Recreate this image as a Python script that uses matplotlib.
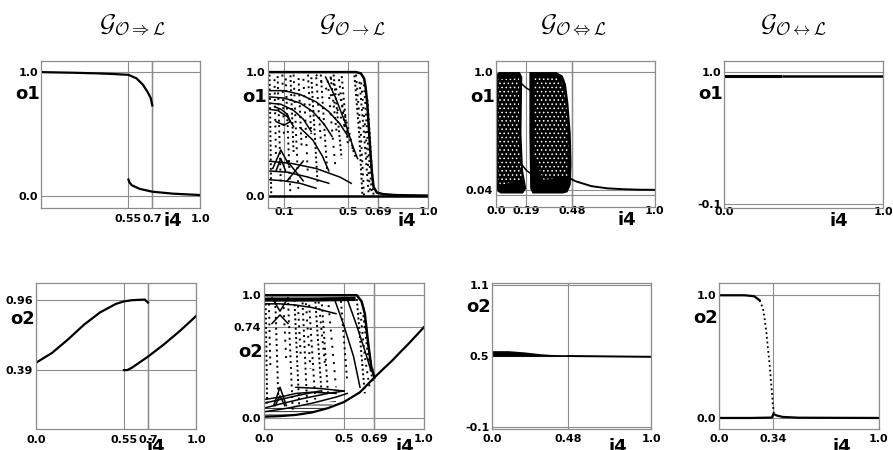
import matplotlib
matplotlib.use('Agg')
from matplotlib import pyplot as plt

plt.rcParams['mathtext.fontset'] = 'cm'
plt.rcParams['hatch.linewidth'] = 0.6

W, H = 893, 450

titles = [r'$\mathcal{G}_{\mathcal{O}\Rightarrow\mathcal{L}}$',
          r'$\mathcal{G}_{\mathcal{O}\rightarrow\mathcal{L}}$',
          r'$\mathcal{G}_{\mathcal{O}\Leftrightarrow\mathcal{L}}$',
          r'$\mathcal{G}_{\mathcal{O}\leftrightarrow\mathcal{L}}$']

# ---- panel 1 : O=>L, o1
p1_hi_x = [0.0, 0.2, 0.35, 0.45, 0.55, 0.6, 0.64, 0.67, 0.69, 0.7]
p1_hi_y = [1.0, 0.995, 0.99, 0.985, 0.978, 0.95, 0.9, 0.84, 0.79, 0.73]
p1_lo_x = [0.55, 0.555, 0.57, 0.62, 0.7, 0.83, 1.0]
p1_lo_y = [0.13, 0.11, 0.085, 0.055, 0.032, 0.016, 0.005]

# ---- panel 5 : O=>L, o2
p5_hi_x = [0.0, 0.1, 0.2, 0.3, 0.4, 0.5, 0.55, 0.6, 0.68, 0.7]
p5_hi_y = [0.45, 0.53, 0.64, 0.76, 0.86, 0.93, 0.95, 0.96, 0.965, 0.94]
p5_lo_x = [0.55, 0.57, 0.6, 0.7, 0.8, 0.9, 1.0]
p5_lo_y = [0.39, 0.39, 0.41, 0.5, 0.6, 0.71, 0.83]

# ---- panel 2 : O->L, o1 (chaotic)
p2_top_x = [0.0, 0.3, 0.55, 0.58, 0.6, 0.61, 0.62, 0.63, 0.64, 0.65, 0.66, 0.68, 0.72, 0.8, 1.0]
p2_top_y = [1.0, 1.0, 1.0, 0.99, 0.95, 0.88, 0.75, 0.55, 0.35, 0.18, 0.07, 0.025, 0.012, 0.004, 0.0]
p2_bot_x = [0.0, 0.6, 1.0]
p2_bot_y = [0.0, 0.0, 0.0]
p2_arcs_x = [[0.0, 0.1, 0.2, 0.3, 0.38, 0.45, 0.5],
             [0.0, 0.1, 0.2, 0.28, 0.35, 0.4],
             [0.0, 0.08, 0.16, 0.22, 0.27],
             [0.0, 0.06, 0.12, 0.16],
             [0.0, 0.15, 0.3, 0.45, 0.52],
             [0.0, 0.12, 0.25, 0.38],
             [0.0, 0.1, 0.2, 0.3],
             [0.03, 0.08, 0.13],
             [0.05, 0.08, 0.11],
             [0.04, 0.08, 0.12, 0.14, 0.1, 0.05],
             [0.12, 0.17, 0.22],
             [0.12, 0.17, 0.22],
             [0.36, 0.42, 0.48, 0.53, 0.56],
             [0.2, 0.28, 0.34, 0.38]]
p2_arcs_y = [[0.85, 0.85, 0.82, 0.76, 0.68, 0.58, 0.48],
             [0.8, 0.79, 0.75, 0.68, 0.58, 0.48],
             [0.75, 0.74, 0.69, 0.62, 0.52],
             [0.7, 0.69, 0.64, 0.56],
             [0.28, 0.26, 0.22, 0.15, 0.1],
             [0.2, 0.19, 0.15, 0.1],
             [0.13, 0.12, 0.1, 0.06],
             [0.22, 0.37, 0.25],
             [0.2, 0.3, 0.2],
             [0.72, 0.7, 0.66, 0.6, 0.57, 0.6],
             [0.12, 0.2, 0.28],
             [0.28, 0.2, 0.12],
             [0.96, 0.8, 0.6, 0.4, 0.3],
             [0.55, 0.45, 0.32, 0.2]]
p2_dots_x = [[0.01, 0.02], [0.04, 0.05], [0.06, 0.08], [0.09, 0.1], [0.11, 0.14],
             [0.14, 0.16], [0.16, 0.19], [0.19, 0.21], [0.22, 0.25], [0.25, 0.27],
             [0.27, 0.31], [0.3, 0.33], [0.33, 0.37], [0.37, 0.42], [0.39, 0.43],
             [0.41, 0.46], [0.44, 0.48], [0.46, 0.5], [0.3, 0.4, 0.5, 0.55],
             [0.38, 0.45, 0.5, 0.54], [0.54, 0.57, 0.59], [0.55, 0.58, 0.6],
             [0.57, 0.6, 0.63], [0.58, 0.61, 0.64], [0.6, 0.62, 0.65], [0.62, 0.64, 0.66]]
p2_dots_y = [[0.98, 0.02], [0.98, 0.3], [0.98, 0.1], [0.98, 0.45], [0.98, 0.0],
             [0.98, 0.35], [0.98, 0.05], [0.98, 0.4], [0.98, 0.15], [0.98, 0.5],
             [0.98, 0.1], [0.98, 0.45], [0.98, 0.2], [0.98, 0.25], [0.98, 0.5],
             [0.98, 0.3], [0.98, 0.55], [0.98, 0.4], [0.98, 0.8, 0.5, 0.3],
             [0.98, 0.8, 0.55, 0.33], [0.98, 0.5, 0.0], [0.98, 0.5, 0.0],
             [0.95, 0.5, 0.0], [0.95, 0.5, 0.0], [0.9, 0.5, 0.0], [0.8, 0.4, 0.0]]

# ---- panel 6 : O->L, o2 (chaotic)
p6_top_x = [0.0, 0.3, 0.58, 0.61, 0.63, 0.65, 0.67, 0.69]
p6_top_y = [1.0, 1.0, 1.0, 0.95, 0.85, 0.62, 0.42, 0.33]
p6_band_x = [0.0, 0.3, 0.56]
p6_band_y = [0.965, 0.965, 0.97]
p6_env_x = [0.0, 0.1, 0.2, 0.3, 0.4, 0.5, 0.6, 0.69, 0.75, 0.8, 0.85, 0.9, 0.95, 1.0]
p6_env_y = [0.01, 0.015, 0.025, 0.045, 0.08, 0.13, 0.21, 0.33, 0.405, 0.466, 0.534, 0.6, 0.67, 0.74]
p6_floor_x = [0.0, 0.1, 0.2, 0.3, 0.4, 0.45]
p6_floor_hi = [0.08, 0.09, 0.1, 0.11, 0.13, 0.14]
p6_arcs_x = [[0.0, 0.15, 0.3, 0.45, 0.52],
             [0.0, 0.12, 0.25, 0.4, 0.5],
             [0.0, 0.1, 0.2, 0.35],
             [0.0, 0.1, 0.2, 0.3, 0.45],
             [0.05, 0.1, 0.15],
             [0.05, 0.1, 0.15],
             [0.06, 0.1, 0.14],
             [0.07, 0.1, 0.13],
             [0.2, 0.35, 0.5],
             [0.52, 0.58, 0.63, 0.67],
             [0.44, 0.5, 0.56, 0.6],
             [0.0, 0.1, 0.2, 0.3, 0.45]]
p6_arcs_y = [[0.05, 0.08, 0.12, 0.17, 0.2],
             [0.08, 0.12, 0.16, 0.2, 0.22],
             [0.12, 0.15, 0.18, 0.22],
             [0.15, 0.17, 0.2, 0.21, 0.2],
             [0.98, 0.87, 0.98],
             [0.77, 0.84, 0.77],
             [0.1, 0.25, 0.1],
             [0.1, 0.18, 0.1],
             [0.25, 0.24, 0.22],
             [0.97, 0.75, 0.55, 0.38],
             [0.97, 0.75, 0.5, 0.25],
             [0.93, 0.93, 0.92, 0.9, 0.85]]
p6_dots_x = [[0.01, 0.02], [0.03, 0.04], [0.07, 0.09], [0.12, 0.14], [0.15, 0.18],
             [0.19, 0.22], [0.21, 0.23], [0.24, 0.27], [0.26, 0.29], [0.28, 0.32],
             [0.32, 0.36], [0.34, 0.38], [0.36, 0.4], [0.4, 0.45], [0.48, 0.52],
             [0.58, 0.61, 0.63], [0.6, 0.63, 0.66], [0.62, 0.65, 0.68], [0.63, 0.66, 0.69]]
p6_dots_y = [[0.97, 0.1], [0.97, 0.4], [0.97, 0.15], [0.97, 0.45], [0.97, 0.05],
             [0.97, 0.1], [0.97, 0.5], [0.97, 0.1], [0.97, 0.4], [0.97, 0.15],
             [0.97, 0.2], [0.97, 0.45], [0.97, 0.2], [0.97, 0.25], [0.97, 0.3],
             [0.97, 0.5, 0.2], [0.9, 0.5, 0.25], [0.85, 0.5, 0.3], [0.8, 0.5, 0.32]]

# ---- panel 3 : O<=>L, o1 (two dense clouds)
p3_left_x = [0.0, 0.0, 0.02, 0.15, 0.165, 0.16, 0.17, 0.19, 0.17, 0.03, 0.005]
p3_left_y = [0.05, 0.98, 1.0, 1.0, 0.96, 0.5, 0.2, 0.05, 0.01, 0.01, 0.03]
p3_left_in_x = [0.015, 0.015, 0.145, 0.145, 0.165, 0.03]
p3_left_in_y = [0.1, 0.94, 0.95, 0.4, 0.12, 0.08]
p3_right_x = [0.21, 0.38, 0.42, 0.44, 0.455, 0.47, 0.475, 0.47, 0.45, 0.42, 0.23, 0.215, 0.21]
p3_right_y = [1.0, 1.0, 0.97, 0.9, 0.75, 0.5, 0.25, 0.08, 0.02, 0.01, 0.01, 0.05, 0.5]
p3_right_in_x = [0.24, 0.38, 0.42, 0.445, 0.455, 0.45, 0.3, 0.24]
p3_right_in_y = [0.95, 0.96, 0.9, 0.7, 0.4, 0.15, 0.12, 0.3]
p3_tail_x = [0.47, 0.5, 0.55, 0.6, 0.7, 0.8, 0.9, 1.0]
p3_tail_y = [0.13, 0.11, 0.09, 0.07, 0.052, 0.045, 0.041, 0.04]
p3_gap_x = [[0.165, 0.19, 0.23], [0.16, 0.19, 0.22]]
p3_gap_y = [[0.9, 0.87, 0.84], [0.25, 0.2, 0.17]]

# ---- panel 7 : O<=>L, o2
p7_band_x = [0.0, 0.1, 0.2, 0.3, 0.4, 0.48]
p7_band_hi = [0.545, 0.545, 0.535, 0.52, 0.51, 0.5]
p7_band_lo = [0.5, 0.5, 0.5, 0.5, 0.5, 0.5]
p7_line_x = [0.48, 0.7, 1.0]
p7_line_y = [0.5, 0.497, 0.493]

# ---- panel 4 : O<->L, o1
p4_a_x = [0.0, 0.35]
p4_a_y = [0.966, 0.966]
p4_b_x = [0.37, 1.0]
p4_b_y = [0.965, 0.965]

# ---- panel 8 : O<->L, o2
p8_hi_x = [0.0, 0.16, 0.22, 0.254]
p8_hi_y = [1.0, 1.0, 0.992, 0.959]
p8_fall_x = [0.254, 0.275, 0.285, 0.296, 0.306, 0.317, 0.327, 0.3375, 0.344]
p8_fall_y = [0.959, 0.891, 0.809, 0.7, 0.564, 0.428, 0.264, 0.1, 0.02]
p8_lo_x = [0.0, 0.2, 0.33, 0.34, 0.36, 0.4, 0.5, 1.0]
p8_lo_y = [0.0, 0.0, 0.003, 0.033, 0.02, 0.008, 0.002, 0.0]

# axes boxes in pixels (left, right, top, bottom)
boxes = [(41, 200, 61, 208), (268, 428, 61, 208), (496, 655, 61, 207), (724, 883, 61, 208),
         (36, 196, 283, 429), (264, 424, 283, 429), (492, 651, 283, 429), (719, 879, 283, 429)]
xticks = [[0.55, 0.7, 1.0], [0.1, 0.5, 0.69, 1.0], [0.0, 0.19, 0.48, 1.0], [0.0, 1.0],
          [0.0, 0.55, 0.7, 1.0], [0.0, 0.5, 0.69, 1.0], [0.0, 0.48, 1.0], [0.0, 0.34, 1.0]]
yticks = [[0.0, 1.0], [0.0, 1.0], [0.04, 1.0], [-0.1, 1.0],
          [0.39, 0.96], [0.0, 0.74, 1.0], [-0.1, 0.5, 1.1], [0.0, 1.0]]
ylims = [(-0.1, 1.09), (-0.1, 1.09), (-0.1, 1.09), (-0.13, 1.09),
         (-0.09, 1.1), (-0.09, 1.1), (-0.115, 1.115), (-0.09, 1.1)]
dark_x = [0.7, 0.69, 0.48, None, 0.7, 0.69, None, None]
ylabels = ['o1', 'o1', 'o1', 'o1', 'o2', 'o2', 'o2', 'o2']
ylab_pos = [0.775, 0.755, 0.755, 0.775, 0.75, 0.53, 0.835, 0.76]
xlab_pos = [0.83, 0.87, 0.82, 0.72, 0.75, 0.88, 0.79, 0.77]
xpads = [4.3, -1.0, -1.0, -1.0, 4.0, 3.5, 3.5, 3.5]
title_px = [132, 352, 573, 793]

fig = plt.figure(figsize=(W / 100, H / 100), dpi=100)
axes = []
for i, (l, r, t, b) in enumerate(boxes):
    ax = fig.add_axes([l / W, 1 - b / H, (r - l) / W, (b - t) / H])
    ax.set_xlim(0, 1)
    ax.set_ylim(*ylims[i])
    ax.set_xticks(xticks[i])
    ax.set_xticklabels([str(v) for v in xticks[i]])
    ax.set_yticks(yticks[i])
    ax.set_yticklabels([str(v) for v in yticks[i]])
    ax.tick_params(length=0, labelsize=8)
    ax.tick_params(axis='x', pad=xpads[i])
    ax.tick_params(axis='y', pad=2)
    for lab in ax.get_xticklabels() + ax.get_yticklabels():
        lab.set_fontweight('bold')
    ax.grid(True, color='#8c8c8c', lw=0.8)
    ax.set_axisbelow(True)
    for s in ax.spines.values():
        s.set_color('#8c8c8c')
        s.set_linewidth(0.9)
    if dark_x[i] is not None:
        ax.axvline(dark_x[i], color='#333333', lw=0.9, zorder=0.5)
    ax.text(-0.005, ylab_pos[i], ylabels[i], transform=ax.transAxes, ha='right',
            va='center', fontsize=13, fontweight='bold')
    yl = -0.09 if i < 4 else -0.125
    ax.text(xlab_pos[i], yl, 'i4', transform=ax.transAxes, ha='center',
            va='center', fontsize=13, fontweight='bold', clip_on=False)
    axes.append(ax)

for k in range(4):
    fig.text(title_px[k] / W, 1 - 25 / H, titles[k], ha='center', va='center', fontsize=18)

gaps = [1.4, 2.4, 1.8, 3.2, 2.0]
thin = dict(color='black', lw=1.1)


def dotted(ax, xs_list, ys_list):
    for j, (xs, ys) in enumerate(zip(xs_list, ys_list)):
        ax.plot(xs, ys, color='black', lw=1.4, ls=(j % 3, (1, gaps[j % len(gaps)])))


# panel 1
ax = axes[0]
ax.plot(p1_hi_x, p1_hi_y, color='black', lw=1.6)
ax.plot(p1_lo_x, p1_lo_y, color='black', lw=1.6)

# panel 2
ax = axes[1]
ax.plot(p2_top_x, p2_top_y, color='black', lw=1.8)
ax.plot(p2_bot_x, p2_bot_y, color='black', lw=1.8)
for xs, ys in zip(p2_arcs_x, p2_arcs_y):
    ax.plot(xs, ys, **thin)
dotted(ax, p2_dots_x, p2_dots_y)

# panel 3
ax = axes[2]
ax.fill(p3_left_x, p3_left_y, color='black', lw=0)
ax.fill(p3_left_in_x, p3_left_in_y, facecolor='black', edgecolor='white', hatch='....', lw=0)
ax.fill(p3_right_x, p3_right_y, color='black', lw=0)
ax.fill(p3_right_in_x, p3_right_in_y, facecolor='black', edgecolor='white', hatch='....', lw=0)
ax.plot(p3_tail_x, p3_tail_y, color='black', lw=1.4)
for xs, ys in zip(p3_gap_x, p3_gap_y):
    ax.plot(xs, ys, **thin)
ax.axhline(0.0, color='#8c8c8c', lw=0.8, zorder=0)

# panel 4
ax = axes[3]
ax.plot(p4_a_x, p4_a_y, color='black', lw=2.2)
ax.plot(p4_b_x, p4_b_y, color='black', lw=1.8)

# panel 5
ax = axes[4]
ax.plot(p5_hi_x, p5_hi_y, color='black', lw=1.6)
ax.plot(p5_lo_x, p5_lo_y, color='black', lw=1.6)

# panel 6
ax = axes[5]
ax.plot(p6_top_x, p6_top_y, color='black', lw=1.8)
ax.plot(p6_band_x, p6_band_y, color='black', lw=3)
ax.plot(p6_env_x, p6_env_y, color='black', lw=1.6)
ax.fill_between(p6_floor_x, p6_env_y[:len(p6_floor_x)], p6_floor_hi,
                facecolor='white', edgecolor='black', hatch='-----', lw=0)
for xs, ys in zip(p6_arcs_x, p6_arcs_y):
    ax.plot(xs, ys, **thin)
dotted(ax, p6_dots_x, p6_dots_y)

# panel 7
ax = axes[6]
ax.fill_between(p7_band_x, p7_band_lo, p7_band_hi, color='black', lw=0)
ax.plot(p7_band_x, p7_band_lo, color='black', lw=1.2)
ax.plot(p7_line_x, p7_line_y, color='black', lw=1.4)

# panel 8
ax = axes[7]
ax.plot(p8_hi_x, p8_hi_y, color='black', lw=1.6)
ax.plot(p8_fall_x, p8_fall_y, color='black', lw=1.3, ls=(0, (1, 1.6)))
ax.plot(p8_lo_x, p8_lo_y, color='black', lw=1.6)

fig.savefig('out.png', dpi=100)
